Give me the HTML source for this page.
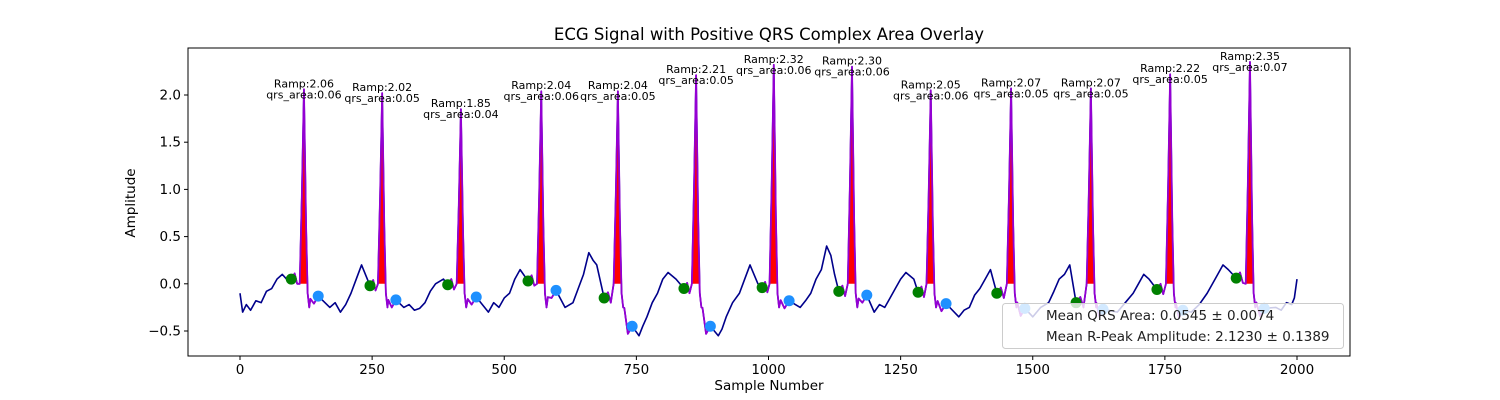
<!DOCTYPE html>
<html><head><meta charset="utf-8"><style>
body{margin:0;background:#fff;}
svg{display:block;font-family:"DejaVu Sans","Liberation Sans",sans-serif;}
</style></head><body>
<svg id="chart" width="1500" height="400" xmlns="http://www.w3.org/2000/svg">
<rect x="0" y="0" width="1500" height="400" fill="#fff"/>
<text x="769" y="40" text-anchor="middle" font-size="16.5" fill="#000">ECG Signal with Positive QRS Complex Area Overlay</text>
<g id="plot"></g>
<text x="769" y="390" text-anchor="middle" font-size="13.5">Sample Number</text>
<text x="135" y="203" text-anchor="middle" font-size="13.5" transform="rotate(-90 135 203)">Amplitude</text>
</svg>
<script>
const rPeaks=[121,269,418,570,715,863,1010,1158,1307,1459,1610,1760,1911];
const rAmps=[2.06,2.02,1.85,2.04,2.04,2.21,2.32,2.30,2.05,2.07,2.07,2.22,2.35];
const qrsAreas=[0.06,0.05,0.04,0.06,0.05,0.05,0.06,0.06,0.06,0.05,0.05,0.05,0.07];
const onsetX=[97,246,393,545,689,840,988,1133,1283,1432,1582,1735,1885];
const onsetY=[0.05,-0.02,-0.01,0.03,-0.15,-0.05,-0.04,-0.08,-0.09,-0.10,-0.20,-0.06,0.06];
const offsetX=[148,295,447,598,742,890,1039,1186,1336,1485,1633,1784,1938];
const offsetY=[-0.13,-0.17,-0.14,-0.07,-0.45,-0.45,-0.18,-0.12,-0.21,-0.26,-0.27,-0.28,-0.26];
const baseX=[0,5,12,20,30,40,50,60,70,80,88,170,180,190,200,210,220,230,310,320,330,340,350,360,370,385,470,480,490,500,510,520,530,615,630,640,650,660,668,675,755,762,770,780,790,800,810,825,905,912,920,932,945,955,965,980,1060,1070,1080,1090,1100,1110,1118,1125,1200,1210,1220,1230,1240,1250,1260,1275,1360,1370,1380,1390,1400,1410,1420,1500,1515,1530,1540,1550,1560,1570,1660,1675,1690,1700,1710,1720,1800,1815,1830,1845,1860,1870,1960,1970,1980,1990,1995,2000];
const baseY=[-0.1,-0.3,-0.22,-0.28,-0.18,-0.2,-0.08,-0.05,0.05,0.1,0.05,-0.25,-0.2,-0.3,-0.22,-0.1,0.05,0.2,-0.25,-0.22,-0.28,-0.26,-0.2,-0.08,0.0,0.05,-0.3,-0.2,-0.25,-0.15,-0.1,0.05,0.15,-0.25,-0.2,-0.05,0.1,0.33,0.25,0.2,-0.55,-0.45,-0.35,-0.2,-0.1,0.05,0.12,0.05,-0.55,-0.48,-0.35,-0.2,-0.1,0.05,0.2,0.0,-0.25,-0.18,-0.1,0.05,0.15,0.4,0.3,0.1,-0.3,-0.22,-0.25,-0.15,-0.05,0.05,0.12,0.05,-0.35,-0.28,-0.25,-0.12,-0.05,0.05,0.15,-0.35,-0.25,-0.2,-0.08,0.05,0.1,0.2,-0.3,-0.2,-0.1,0.0,0.1,0.05,-0.3,-0.22,-0.1,0.05,0.2,0.15,-0.25,-0.28,-0.2,-0.22,-0.15,0.05];
const xTicks=[0,250,500,750,1000,1250,1500,1750,2000];
const yTicks=[-0.5,0.0,0.5,1.0,1.5,2.0];
const legendLabels=["Mean QRS Area: 0.0545 ± 0.0074","Mean R-Peak Amplitude: 2.1230 ± 0.1389"];

const L=188,R=1350,T=48,B=356;
const sx=v=>240+v*(1297-240)/2000;
const sy=v=>283.8-v*94.4;
const NS="http://www.w3.org/2000/svg";
const g=document.getElementById('plot');
function mk(tag,attrs,parent){const e=document.createElementNS(NS,tag);for(const k in attrs)e.setAttribute(k,attrs[k]);(parent||g).appendChild(e);return e;}

let pts=[];
for(let i=0;i<baseX.length;i++)pts.push([baseX[i],baseY[i]]);
let qrs=[];
for(let i=0;i<rPeaks.length;i++){
  const p=rPeaks[i],a=rAmps[i];
  const seg=[[onsetX[i],onsetY[i]],[onsetX[i]+(p-8-onsetX[i])*0.4,onsetY[i]+0.06],[onsetX[i]+(p-8-onsetX[i])*0.7,onsetY[i]-0.05],[p-8,0.0],[p-4,a*0.45],[p,a],[p+4,a*0.3],[p+7,-0.1],[p+10,-0.25],[p+(offsetX[i]-p)*0.45,-0.12+offsetY[i]*0.3],[p+(offsetX[i]-p)*0.7,offsetY[i]-0.08],[offsetX[i],offsetY[i]]];
  qrs.push(seg);
  seg.forEach(s=>pts.push([s[0],s[1]]));
}
pts.sort((a,b)=>a[0]-b[0]);

const clip=mk('clipPath',{id:'pc'});mk('rect',{x:L,y:T,width:R-L,height:B-T},clip);
const main=mk('polyline',{points:pts.map(p=>sx(p[0])+','+sy(p[1])).join(' '),fill:'none',stroke:'#00008b','stroke-width':1.6,'stroke-linejoin':'round','clip-path':'url(#pc)'});



qrs.forEach((seg,i)=>{
  const p=rPeaks[i],a=rAmps[i];
  const f=mk('polygon',{points:[[p-10,0],[p-8,0],[p-4,a*0.45],[p,a],[p+4,a*0.3],[p+6.2,0],[p-10,0]].map(q=>sx(q[0])+','+sy(q[1])).join(' '),fill:'#ff0000'});
  
  
  const pl=mk('polyline',{points:seg.map(q=>sx(q[0])+','+sy(q[1])).join(' '),fill:'none',stroke:'#9400d3','stroke-width':1.8,'stroke-linejoin':'round'});
  
  
});
for(let i=0;i<rPeaks.length;i++){
  const on=mk('circle',{cx:sx(onsetX[i]),cy:sy(onsetY[i]),r:5.5,fill:'#008000'});
  
  
  const off=mk('circle',{cx:sx(offsetX[i]),cy:sy(offsetY[i]),r:5.5,fill:'#1e90ff'});
  
  
  const t1=mk('text',{x:sx(rPeaks[i]),y:sy(rAmps[i])-2,'text-anchor':'middle','font-size':11});
  t1.textContent='Ramp:'+rAmps[i].toFixed(2);
  
  
  const t2=mk('text',{x:sx(rPeaks[i]),y:sy(rAmps[i])+9,'text-anchor':'middle','font-size':11});
  t2.textContent='qrs_area:'+qrsAreas[i].toFixed(2);
  
  
}
const fr=mk('rect',{x:L,y:T,width:R-L,height:B-T,fill:'none',stroke:'#000','stroke-width':1});


xTicks.forEach(v=>{
  const tl=mk('line',{x1:sx(v),x2:sx(v),y1:B,y2:B+4,stroke:'#000'});
  
  
  const tx=mk('text',{x:sx(v),y:B+18,'text-anchor':'middle','font-size':13.5});
  tx.textContent=v;
  
  
});
yTicks.forEach(v=>{
  const tl=mk('line',{x1:L-4,x2:L,y1:sy(v),y2:sy(v),stroke:'#000'});
  
  
  const tx=mk('text',{x:L-7,y:sy(v)+4.5,'text-anchor':'end','font-size':13.5});
  tx.textContent=(v<0?'\u2212'+(-v).toFixed(1):v.toFixed(1));
  
  
});
const lg=mk('g',{});


mk('rect',{x:1002.5,y:303.5,width:341,height:45,rx:3,fill:'#fff','fill-opacity':0.8,stroke:'#ccc'},lg);
legendLabels.forEach((s,i)=>{
  const t=mk('text',{x:1046,y:320+i*21,'font-size':13.5,fill:'#222'},lg);
  t.textContent=s;
  
  
});
</script>
</body></html>
